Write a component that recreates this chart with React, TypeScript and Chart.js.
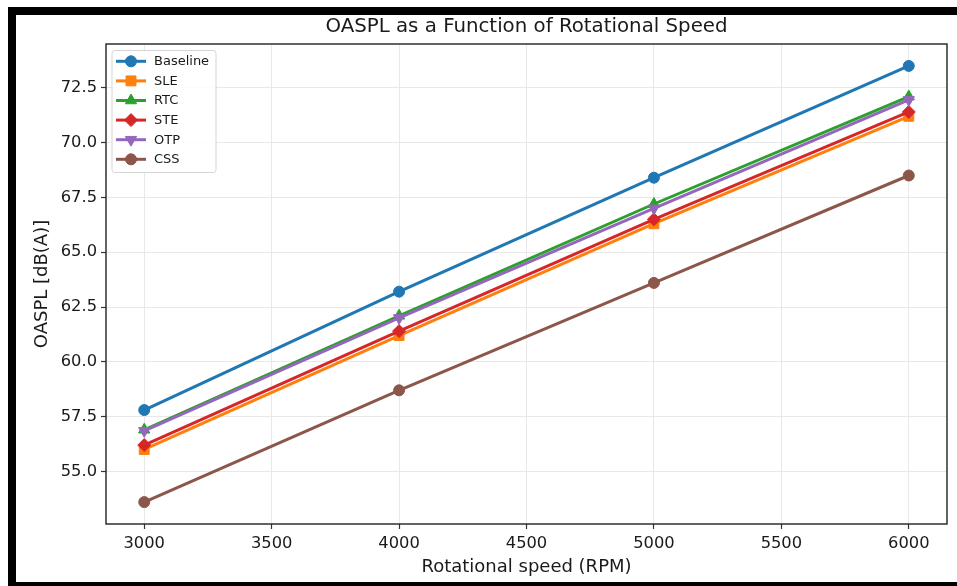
import React, { useEffect, useRef } from "react";
import { Chart, registerables } from "chart.js";
import { drawPoint } from "chart.js/helpers";

Chart.register(...registerables);

const rpm = [3000, 4000, 5000, 6000];
const baseline = [57.8, 63.2, 68.4, 73.5];
const sle = [56.0, 61.2, 66.3, 71.2];
const rtc = [56.9, 62.1, 67.2, 72.1];
const ste = [56.2, 61.4, 66.5, 71.4];
const otp = [56.85, 62.0, 67.0, 71.95];
const css = [53.6, 58.7, 63.6, 68.5];
const seriesNames = ["Baseline", "SLE", "RTC", "STE", "OTP", "CSS"];
const xTicks = [3000, 3500, 4000, 4500, 5000, 5500, 6000];
const yTicks = [55, 57.5, 60, 62.5, 65, 67.5, 70, 72.5];
const titleText = "OASPL as a Function of Rotational Speed";
const xLabel = "Rotational speed (RPM)";
const yLabel = "OASPL [dB(A)]";

const colors = ["#1f77b4", "#ff7f0e", "#2ca02c", "#d62728", "#9467bd", "#8c564b"];
const pointStyles = ["circle", "rect", "triangle", "rectRot", "triangle", "circle"];
const pointRotations = [0, 0, 0, 0, 180, 0];
const pointRadii = [5.5, 7, 6.5, 6.5, 6.5, 5.5];

const FONT = "'DejaVu Sans', 'Liberation Sans', sans-serif";
const TEXT = "#1a1a1a";
const LINE_W = 3;

const decorPlugin = {
  id: "decor",
  afterDatasetsDraw(chart: any) {
    const { ctx, chartArea } = chart;
    const { left, right, top, bottom } = chartArea;
    ctx.save();
    // spines
    ctx.strokeStyle = "#222";
    ctx.lineWidth = 1.4;
    ctx.strokeRect(left, top, right - left, bottom - top);

    // legend
    const lx = 112, ly = 50.5, lw = 104, lh = 122;
    ctx.beginPath();
    (ctx as any).roundRect(lx, ly, lw, lh, 3);
    ctx.fillStyle = "rgba(255,255,255,0.85)";
    ctx.fill();
    ctx.strokeStyle = "#d5d5d5";
    ctx.lineWidth = 1;
    ctx.stroke();
    const datasets = chart.data.datasets;
    datasets.forEach((ds: any, i: number) => {
      const cy = 61.3 + i * 19.6;
      ctx.strokeStyle = colors[i];
      ctx.lineWidth = LINE_W;
      ctx.beginPath();
      ctx.moveTo(116, cy);
      ctx.lineTo(146, cy);
      ctx.stroke();
      ctx.fillStyle = colors[i];
      ctx.strokeStyle = colors[i];
      ctx.lineWidth = 1;
      drawPoint(ctx, { pointStyle: pointStyles[i] as any, rotation: pointRotations[i], radius: pointRadii[i], borderWidth: 1 } as any, 131, cy);
      ctx.fillStyle = TEXT;
      ctx.font = `13px ${FONT}`;
      ctx.textAlign = "left";
      ctx.textBaseline = "middle";
      ctx.fillText(ds.label, 154, cy + 0.5);
    });
    ctx.restore();
  },
  afterDraw(chart: any) {
    const { ctx, chartArea } = chart;
    ctx.save();
    ctx.fillStyle = TEXT;
    ctx.font = `19.8px ${FONT}`;
    ctx.textAlign = "center";
    ctx.textBaseline = "middle";
    ctx.fillText(titleText, (chartArea.left + chartArea.right) / 2, 27);
    ctx.restore();
  },
};

export default function App() {
  const ref = useRef<HTMLCanvasElement | null>(null);
  useEffect(() => {
    if (!ref.current) return;
    const series = [baseline, sle, rtc, ste, otp, css];
    const chart = new Chart(ref.current, {
      type: "line",
      data: {
        datasets: series.map((vals, i) => ({
          label: seriesNames[i],
          data: rpm.map((x, j) => ({ x, y: vals[j] })),
          borderColor: colors[i],
          backgroundColor: colors[i],
          pointBackgroundColor: colors[i],
          pointBorderColor: colors[i],
          pointBorderWidth: 1,
          pointStyle: pointStyles[i] as any,
          pointRotation: pointRotations[i],
          pointRadius: pointRadii[i],
          borderWidth: LINE_W,
          tension: 0,
          fill: false,
          order: -i,
        })),
      },
      options: {
        animation: false,
        responsive: false,
        devicePixelRatio: 1,
        layout: { padding: { top: 44, right: 10, left: 0, bottom: 0 } },
        plugins: {
          legend: { display: false },
          title: { display: false },
          tooltip: { enabled: false },
        },
        scales: {
          x: {
            type: "linear",
            min: 2850,
            max: 6150,
            afterFit(scale: any) {
              scale.height = 62;
            },
            afterBuildTicks(scale: any) {
              scale.ticks = xTicks.map((v) => ({ value: v }));
            },
            border: { display: false },
            grid: {
              color: "#e8e8e8",
              lineWidth: 1,
              drawTicks: true,
              tickLength: 5,
              tickColor: "#333",
              tickWidth: 1.2,
            },
            ticks: {
              color: TEXT,
              font: { family: FONT, size: 16.3 },
              padding: 5,
              maxRotation: 0,
              autoSkip: false,
              callback: (v: any) => String(v),
            },
            title: {
              display: true,
              text: xLabel,
              color: TEXT,
              font: { family: FONT, size: 18 },
              padding: { top: 0, bottom: 8.2 },
            },
          },
          y: {
            type: "linear",
            min: 52.6,
            max: 74.5,
            afterFit(scale: any) {
              scale.width = 106;
            },
            afterBuildTicks(scale: any) {
              scale.ticks = yTicks.map((v) => ({ value: v }));
            },
            border: { display: false },
            grid: {
              color: "#e8e8e8",
              lineWidth: 1,
              drawTicks: true,
              tickLength: 5,
              tickColor: "#333",
              tickWidth: 1.2,
            },
            ticks: {
              color: TEXT,
              font: { family: FONT, size: 16.3 },
              padding: 4,
              autoSkip: false,
              callback: (v: any) => Number(v).toFixed(1),
            },
            title: {
              display: true,
              text: yLabel,
              color: TEXT,
              font: { family: FONT, size: 18 },
              padding: { top: 31.2, bottom: 0 },
            },
          },
        },
      },
      plugins: [decorPlugin],
    });
    return () => chart.destroy();
  }, []);

  return (
    <>
      <div
        style={{
          position: "fixed",
          left: 8,
          top: 7,
          width: 960,
          height: 583,
          border: "8px solid #000",
          boxSizing: "border-box",
          background: "#fff",
        }}
      />
      <canvas
        ref={ref}
        width={957}
        height={586}
        style={{ position: "fixed", left: 0, top: 0, width: 957, height: 586 }}
      />
    </>
  );
}
